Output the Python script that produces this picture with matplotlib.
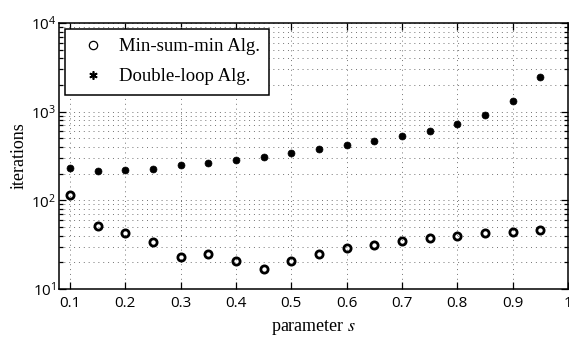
import matplotlib
matplotlib.use("Agg")
import matplotlib.pyplot as plt
from matplotlib.lines import Line2D
from matplotlib.ticker import LogLocator, NullFormatter

s_values = [0.1, 0.15, 0.2, 0.25, 0.3, 0.35, 0.4, 0.45, 0.5, 0.55,
            0.6, 0.65, 0.7, 0.75, 0.8, 0.85, 0.9, 0.95]
min_sum_min = [115, 52, 42.5, 33.6, 22.8, 24.7, 20.9, 16.8, 20.9, 24.7,
               28.8, 31.6, 34.5, 37.6, 39.6, 42.5, 44.2, 46.3]
double_loop = [230, 216, 220, 228, 248, 262, 285, 310, 339, 376,
               418, 464, 528, 605, 720, 910, 1310, 2445]
x_ticks = [0.1, 0.2, 0.3, 0.4, 0.5, 0.6, 0.7, 0.8, 0.9, 1]
x_tick_labels = ["0.1", "0.2", "0.3", "0.4", "0.5", "0.6", "0.7", "0.8", "0.9", "1"]
legend_labels = ["Min-sum-min Alg.", "Double-loop Alg."]

serif = ["Liberation Serif", "DejaVu Serif"]

plt.rcParams["font.family"] = ["Open Sans", "DejaVu Sans"]
plt.rcParams["mathtext.fontset"] = "custom"
plt.rcParams["mathtext.rm"] = "Open Sans"
plt.rcParams["mathtext.it"] = "Open Sans:italic"

fig = plt.figure(figsize=(5.69, 3.37), dpi=100)
ax = fig.add_axes([59 / 569, 1 - 289 / 337, 509 / 569, 266 / 337])

ax.semilogy(s_values, min_sum_min, linestyle="none", marker="o", markersize=5.2,
            markerfacecolor="none", markeredgecolor="black", markeredgewidth=2.0)
ax.semilogy(s_values, double_loop, linestyle="none", marker="o", markersize=5.0,
            markerfacecolor="black", markeredgecolor="black", markeredgewidth=0.5)

ax.set_xlim(0.08, 1.0)
ax.set_ylim(10, 1e4)
ax.set_xticks(x_ticks)
ax.set_xticklabels(x_tick_labels)
ax.yaxis.set_minor_locator(LogLocator(base=10, subs=range(2, 10)))
ax.yaxis.set_minor_formatter(NullFormatter())

ax.grid(True, which="major", axis="both", linestyle=(0, (1, 4)), color="0.45", linewidth=0.7)
ax.grid(True, which="minor", axis="y", linestyle=(0, (1, 4)), color="0.45", linewidth=0.7)

ax.tick_params(which="both", direction="in", top=True, right=True, labelsize=11, width=0.9)
ax.tick_params(which="major", length=5)
ax.tick_params(which="minor", length=3)
ax.tick_params(axis="x", pad=5)
ax.tick_params(axis="y", pad=2)
for spine in ax.spines.values():
    spine.set_linewidth(1.1)

ax.set_xlabel("parameter $\\mathit{s}$", fontsize=13, family=serif, labelpad=5,
              math_fontfamily="stix")
ax.set_ylabel("iterations", fontsize=13, family=serif, labelpad=2)

handles = [
    Line2D([], [], linestyle="none", marker="o", markersize=6,
           markerfacecolor="none", markeredgecolor="black", markeredgewidth=0.9),
    Line2D([], [], linestyle="none", marker=(6, 2, 0), markersize=6,
           markerfacecolor="black", markeredgecolor="black", markeredgewidth=1.2),
]
leg = ax.legend(handles, legend_labels, loc="upper left", prop={"family": serif, "size": 13.5},
                frameon=True, fancybox=False, edgecolor="black", framealpha=1,
                borderaxespad=0.3, handletextpad=0.4, labelspacing=0.7, borderpad=0.5)
leg.get_frame().set_linewidth(1.1)

fig.savefig("out.png", dpi=100)
